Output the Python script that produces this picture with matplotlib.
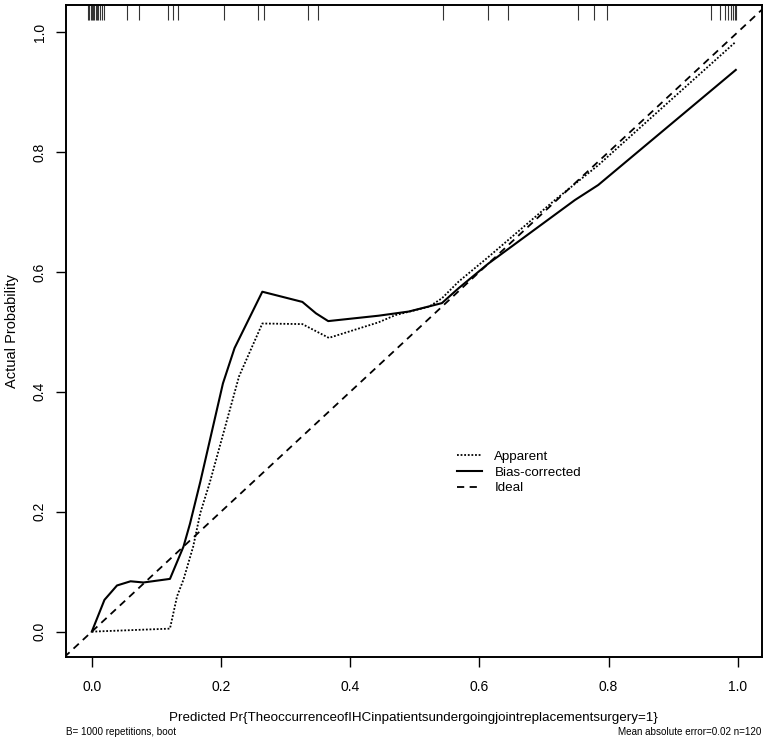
import numpy as np
import matplotlib.pyplot as plt

plt.rcParams['font.family'] = ['Liberation Sans', 'DejaVu Sans']

# calibration curves
apparent_x = [0, 0.121, 0.132, 0.142, 0.157, 0.168, 0.183, 0.228, 0.264, 0.326, 0.367,
              0.444, 0.47, 0.522, 0.542, 0.568, 0.614, 0.717, 0.784, 0.997]
apparent_y = [0, 0.005, 0.059, 0.087, 0.142, 0.198, 0.250, 0.426, 0.514, 0.513, 0.490,
              0.516, 0.528, 0.542, 0.556, 0.584, 0.625, 0.720, 0.778, 0.984]

bias_x = [0, 0.0196, 0.039, 0.06, 0.08, 0.121, 0.142, 0.152, 0.168, 0.203, 0.221, 0.264,
          0.326, 0.347, 0.366, 0.444, 0.491, 0.542, 0.568, 0.614, 0.748, 0.784, 0.997]
bias_y = [0, 0.053, 0.077, 0.084, 0.082, 0.088, 0.142, 0.18, 0.250, 0.414, 0.473, 0.567,
          0.550, 0.531, 0.518, 0.527, 0.534, 0.548, 0.573, 0.614, 0.720, 0.745, 0.937]

# rug of predicted probabilities (top of panel)
rug = [-0.006, -0.004, -0.002, 0.0, 0.002, 0.004, 0.006, 0.008, 0.010, 0.013, 0.016, 0.019,
       0.054, 0.073, 0.118, 0.126, 0.133, 0.205, 0.257, 0.266, 0.335, 0.350, 0.544, 0.613,
       0.644, 0.753, 0.777, 0.797, 0.958, 0.972, 0.981, 0.985, 0.989, 0.992, 0.995, 0.998]

ticks = [0.0, 0.2, 0.4, 0.6, 0.8, 1.0]

fig = plt.figure(figsize=(7.67, 7.38), dpi=100)
ax = fig.add_axes([0.086, 0.110, 0.907, 0.883])

ax.plot([-0.1, 1.1], [-0.1, 1.1], color='black', ls=(0, (4, 3)), lw=1.3, label='Ideal')
ax.plot(apparent_x, apparent_y, color='black', ls=(0, (1, 1)), lw=1.3, label='Apparent')
ax.plot(bias_x, bias_y, color='black', ls='-', lw=1.5, label='Bias-corrected')

ax.vlines(rug, 0.977, 1.0, transform=ax.get_xaxis_transform(), color='#333333', lw=0.8)

ax.set_xlim(-0.04, 1.037)
ax.set_ylim(-0.042, 1.045)
ax.set_xticks(ticks)
ax.set_yticks(ticks)
ax.set_xticklabels(['%.1f' % t for t in ticks])
ax.set_yticklabels(['%.1f' % t for t in ticks], rotation=90, va='center')
ax.tick_params(direction='out', length=7, width=1, labelsize=10, pad=10)
ax.tick_params(axis='y', pad=7)
for s in ax.spines.values():
    s.set_linewidth(1.4)

ax.set_xlabel('Predicted Pr{TheoccurrenceofIHCinpatientsundergoingjointreplacementsurgery=1}',
              fontsize=9.6, labelpad=13)
ax.set_ylabel('Actual Probability', fontsize=10.5, labelpad=10)

h, l = ax.get_legend_handles_labels()
order = [1, 2, 0]
ax.legend([h[i] for i in order], [l[i] for i in order], frameon=False, fontsize=9.6,
          loc='upper left', bbox_to_anchor=(0.545, 0.335), handlelength=1.9,
          labelspacing=0.25, handletextpad=0.9)

fig.text(0.086, 0.002, 'B= 1000 repetitions, boot', fontsize=7.1, ha='left', va='bottom')
fig.text(0.993, 0.002, 'Mean absolute error=0.02 n=120', fontsize=7.1, ha='right', va='bottom')

fig.savefig('out.png', dpi=100)
